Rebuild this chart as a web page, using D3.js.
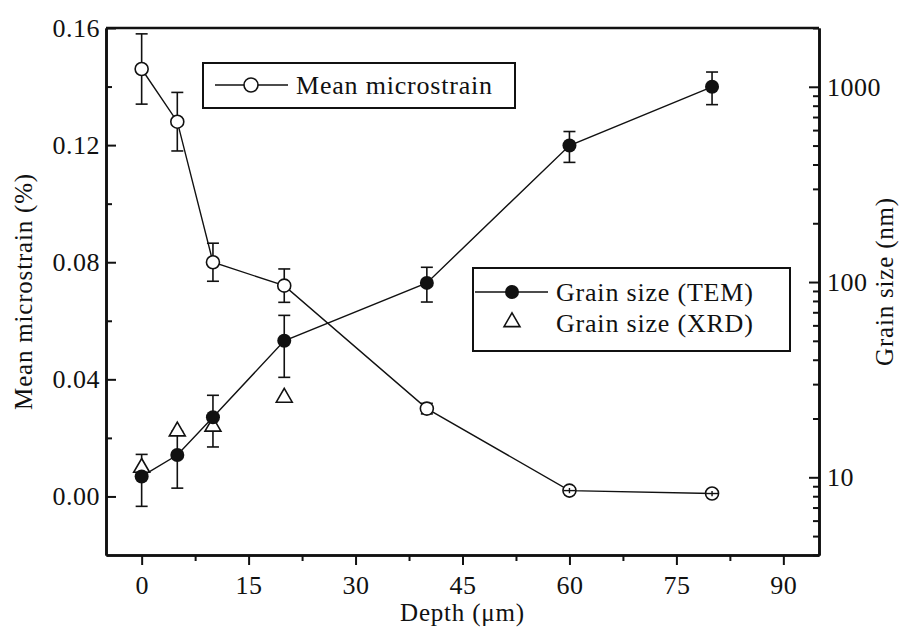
<!DOCTYPE html>
<html>
<head>
<meta charset="utf-8">
<script src="https://cdn.jsdelivr.net/npm/d3@7"></script>
<style>
  body { margin: 0; background: #fff; }
  svg text { font-family: "Liberation Serif", "Times New Roman", "DejaVu Serif", serif; fill: #111; }
</style>
</head>
<body>
<svg id="chart" width="904" height="630"></svg>
<script>
const depth = [0, 5, 10, 20, 40, 60, 80];
const strain = [0.146, 0.128, 0.080, 0.072, 0.030, 0.002, 0.001];
const strainErr = [0.012, 0.010, 0.0065, 0.0057, 0.0018, 0.0009, 0.0009];
const temSize = [10.1, 13.0, 20.3, 50, 99, 500, 1000];
const temErr = [3, 4.2, 6, 17.5, 20, 90, 190];
const xrdDepth = [0, 5, 10, 20];
const xrdSize = [11.2, 17.2, 18.2, 25.6];

const xTicks = [0, 15, 30, 45, 60, 75, 90];
const yTicks = [0.00, 0.04, 0.08, 0.12, 0.16];
const rTicks = [10, 100, 1000];

const svg = d3.select("#chart");
const margin = { top: 28, right: 85, bottom: 75, left: 106 };
const W = 904 - margin.left - margin.right;
const H = 630 - margin.top - margin.bottom;
const serif = '"Liberation Serif", "Times New Roman", "DejaVu Serif", serif';

const g = svg.append("g").attr("transform", `translate(${margin.left},${margin.top})`);

const x = d3.scaleLinear().domain([-5, 95]).range([0, W]);
const y = d3.scaleLinear().domain([-0.02, 0.16]).range([H, 0]);
const yr = d3.scaleLog().domain([4, 2000]).range([H, 0]);

// axes
const xAxis = g.append("g").attr("transform", `translate(0,${H})`)
  .call(d3.axisBottom(x).tickValues(xTicks).tickSize(10).tickSizeOuter(0).tickPadding(8));
g.append("g").attr("transform", `translate(0,${H})`)
  .call(d3.axisBottom(x).tickValues(d3.range(7.5, 90, 15)).tickSize(6).tickSizeOuter(0).tickFormat(""));

g.append("g")
  .call(d3.axisLeft(y).tickValues(yTicks).tickSize(-10).tickSizeOuter(0).tickPadding(6).tickFormat(d3.format(".2f")));
g.append("g")
  .call(d3.axisLeft(y).tickValues([0.02, 0.06, 0.10, 0.14]).tickSize(-6).tickSizeOuter(0).tickFormat(""));

const rMinor = [];
[1, 10, 100, 1000].forEach(b => d3.range(2, 10).forEach(k => {
  const v = b * k;
  if (v >= 4 && v <= 2000 && !rTicks.includes(v)) rMinor.push(v);
}));
g.append("g").attr("transform", `translate(${W},0)`)
  .call(d3.axisRight(yr).tickValues(rTicks).tickSize(-10).tickSizeOuter(0).tickPadding(8).tickFormat(d3.format("d")));
g.append("g").attr("transform", `translate(${W},0)`)
  .call(d3.axisRight(yr).tickValues(rMinor).tickSize(-6).tickSizeOuter(0).tickFormat(""));

g.selectAll("g").attr("font-family", serif);
g.selectAll(".domain").attr("stroke", "#111").attr("stroke-width", 2.6);
g.selectAll(".tick line").attr("stroke", "#111").attr("stroke-width", 2);
g.selectAll(".tick text").style("font-family", serif).style("font-size", "26px")
  .style("letter-spacing", "0.5px").attr("fill", "#111");
xAxis.selectAll(".tick text").attr("dy", "0.82em");

// top frame
g.append("line").attr("x1", 0).attr("x2", W).attr("y1", 0).attr("y2", 0)
  .attr("stroke", "#111").attr("stroke-width", 2.6);

// mean microstrain
const strainPts = depth.map((d, i) => ({ x: d, v: strain[i], e: strainErr[i] }));
g.append("path").datum(strainPts)
  .attr("fill", "none").attr("stroke", "#111").attr("stroke-width", 1.4)
  .attr("d", d3.line().x(d => x(d.x)).y(d => y(d.v)));

// grain size TEM
const temPts = depth.map((d, i) => ({ x: d, v: temSize[i], e: temErr[i] }));
g.append("path").datum(temPts)
  .attr("fill", "none").attr("stroke", "#111").attr("stroke-width", 1.4)
  .attr("d", d3.line().x(d => x(d.x)).y(d => yr(d.v)));

function errorBars(data, ys) {
  const eb = g.append("g").attr("stroke", "#111").attr("stroke-width", 1.6);
  data.forEach(d => {
    const cx = x(d.x), y1 = ys(d.v + d.e), y2 = ys(d.v - d.e);
    eb.append("line").attr("x1", cx).attr("x2", cx).attr("y1", y1).attr("y2", y2);
    eb.append("line").attr("x1", cx - 6).attr("x2", cx + 6).attr("y1", y1).attr("y2", y1);
    eb.append("line").attr("x1", cx - 6).attr("x2", cx + 6).attr("y1", y2).attr("y2", y2);
  });
}
errorBars(strainPts, y);
errorBars(temPts, yr);

const tri = d3.symbol().type(d3.symbolTriangle).size(110);

// XRD triangles
g.selectAll(".xrd").data(xrdDepth.map((d, i) => ({ x: d, v: xrdSize[i] })))
  .enter().append("path")
  .attr("transform", d => `translate(${x(d.x)},${yr(d.v)})`)
  .attr("d", tri).attr("fill", "#fff").attr("stroke", "#111").attr("stroke-width", 1.6);

g.selectAll(".tem").data(temPts).enter().append("circle")
  .attr("cx", d => x(d.x)).attr("cy", d => yr(d.v)).attr("r", 7)
  .attr("fill", "#111");

g.selectAll(".strain").data(strainPts).enter().append("circle")
  .attr("cx", d => x(d.x)).attr("cy", d => y(d.v)).attr("r", 6.5)
  .attr("fill", "#fff").attr("stroke", "#111").attr("stroke-width", 1.6);
// error bars drawn over the small markers
const tiny = strainPts.filter(d => d.e < 0.001);
g.selectAll(".strainIn").data(tiny).enter().append("line")
  .attr("x1", d => x(d.x)).attr("x2", d => x(d.x))
  .attr("y1", d => y(d.v + d.e)).attr("y2", d => y(d.v - d.e))
  .attr("stroke", "#111").attr("stroke-width", 1.4);
g.selectAll(".strainIn2").data(tiny).enter().append("line")
  .attr("x1", d => x(d.x) - 6).attr("x2", d => x(d.x) + 6)
  .attr("y1", d => y(d.v)).attr("y2", d => y(d.v))
  .attr("stroke", "#111").attr("stroke-width", 1.4);

// legend 1
const l1 = svg.append("g");
l1.append("rect").attr("x", 203).attr("y", 63).attr("width", 312).attr("height", 45)
  .attr("fill", "#fff").attr("stroke", "#111").attr("stroke-width", 2);
l1.append("line").attr("x1", 215).attr("x2", 288).attr("y1", 85).attr("y2", 85)
  .attr("stroke", "#111").attr("stroke-width", 1.4);
l1.append("circle").attr("cx", 251).attr("cy", 85).attr("r", 7)
  .attr("fill", "#fff").attr("stroke", "#111").attr("stroke-width", 1.6);
l1.append("text").attr("x", 296).attr("y", 94).style("font-size", "26px")
  .style("letter-spacing", "0.8px").text("Mean microstrain");

// legend 2
const l2 = svg.append("g");
l2.append("rect").attr("x", 473).attr("y", 268).attr("width", 317).attr("height", 83)
  .attr("fill", "#fff").attr("stroke", "#111").attr("stroke-width", 2);
l2.append("line").attr("x1", 475).attr("x2", 548).attr("y1", 292).attr("y2", 292)
  .attr("stroke", "#111").attr("stroke-width", 1.4);
l2.append("circle").attr("cx", 512).attr("cy", 292).attr("r", 7).attr("fill", "#111");
l2.append("path").attr("transform", "translate(512,322)").attr("d", tri)
  .attr("fill", "#fff").attr("stroke", "#111").attr("stroke-width", 1.6);
l2.append("text").attr("x", 556).attr("y", 301).style("font-size", "26px")
  .style("letter-spacing", "0.8px").text("Grain size (TEM)");
l2.append("text").attr("x", 556).attr("y", 332).style("font-size", "26px")
  .style("letter-spacing", "0.8px").text("Grain size (XRD)");

// axis titles
svg.append("text").attr("x", margin.left + W / 2).attr("y", 621)
  .attr("text-anchor", "middle").style("font-size", "25px").style("letter-spacing", "0.8px")
  .text("Depth (\u03bcm)");
svg.append("text").attr("transform", `translate(32,${margin.top + H / 2}) rotate(-90)`)
  .attr("text-anchor", "middle").style("font-size", "25px").style("letter-spacing", "0.8px")
  .text("Mean microstrain (%)");
svg.append("text").attr("transform", `translate(893,${margin.top + H / 2 - 10}) rotate(-90)`)
  .attr("text-anchor", "middle").style("font-size", "25px").style("letter-spacing", "0.8px")
  .text("Grain size (nm)");
</script>
</body>
</html>
